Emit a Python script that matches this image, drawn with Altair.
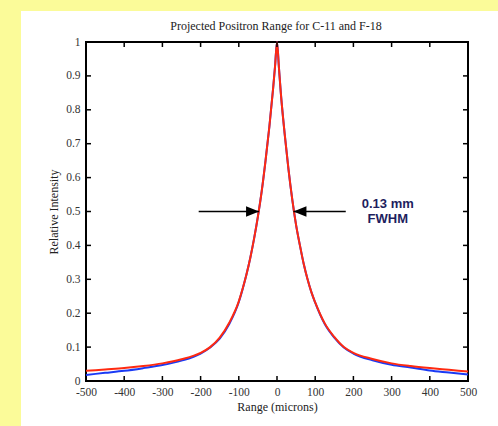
import altair as alt
import pandas as pd

# Positron range profiles (relative intensity vs. range in microns)
range_um = [-500, -450, -400, -350, -300, -250, -200, -175, -150, -125, -100, -90, -80,
            -70, -60, -50, -40, -30, -20, -10, -5, 0, 5, 10, 20, 30,
            40, 50, 60, 70, 80, 90, 100, 125, 150, 175, 200, 250, 300, 350, 400, 450, 500]
c11 = [0.030, 0.034, 0.038, 0.044, 0.052, 0.064, 0.083, 0.100, 0.128, 0.172, 0.235, 0.272,
       0.314, 0.363, 0.420, 0.485, 0.560, 0.650, 0.750, 0.865, 0.930, 1.000,
       0.925, 0.850, 0.730, 0.625, 0.535, 0.460, 0.400, 0.345, 0.300, 0.262,
       0.232, 0.170, 0.130, 0.100, 0.083, 0.065, 0.052, 0.044, 0.038, 0.033, 0.028]
f18 = [0.018, 0.024, 0.030, 0.038, 0.047, 0.060, 0.081, 0.099, 0.125, 0.168, 0.233, 0.271,
       0.314, 0.363, 0.420, 0.485, 0.560, 0.650, 0.750, 0.865, 0.930, 1.000,
       0.925, 0.850, 0.730, 0.625, 0.535, 0.460, 0.400, 0.345, 0.300, 0.262,
       0.231, 0.168, 0.128, 0.099, 0.081, 0.061, 0.048, 0.040, 0.031, 0.025, 0.019]

x_ticks = [-500, -400, -300, -200, -100, 0, 100, 200, 300, 400, 500]
y_ticks = [0, 0.1, 0.2, 0.3, 0.4, 0.5, 0.6, 0.7, 0.8, 0.9, 1]

# FWHM arrows: tail and tip positions at half maximum
arrow_tail = [-205, 180]
arrow_tip = [-47, 43]
arrow_level = [0.5, 0.5]

note_lines = ["0.13 mm", "FWHM"]
note_x = [290, 290]
note_y = [0.522, 0.478]

chart_title = ["Projected Positron Range for C-11 and F-18"]

W, H = 382, 339
SERIF = "Liberation Serif"

curves = pd.DataFrame({
    "x": range_um * 2,
    "y": f18 + c11,
    "s": ["F-18"] * len(range_um) + ["C-11"] * len(range_um),
})
arrows = pd.DataFrame({"tail": arrow_tail, "tip": arrow_tip, "y": arrow_level,
                       "side": ["left", "right"]})
notes = pd.DataFrame({"t": note_lines, "x": note_x, "y": note_y})
titles = pd.DataFrame({"t": chart_title})
xt = pd.DataFrame({"v": x_ticks})
yt = pd.DataFrame({"v": y_ticks})
one = pd.DataFrame({"k": [0]})

xscale = alt.Scale(domain=[-500, 500], nice=False)
yscale = alt.Scale(domain=[0, 1], nice=False)

axis_common = dict(ticks=False, tickSize=0, domain=False, grid=False, labelFont=SERIF,
                   labelFontSize=11.5, labelColor="#333333", labelOverlap=False,
                   labelFlush=False, labelExpr="toString(datum.value)", titleFont=SERIF,
                   titleFontSize=12, titleFontWeight="normal", titleColor="#222222")
x_axis = alt.Axis(values=x_ticks, labelPadding=5, title="Range (microns)",
                  titlePadding=4, **axis_common)
y_axis = alt.Axis(values=y_ticks, labelPadding=6, title="Relative Intensity",
                  titlePadding=5, **axis_common)

# every layer carries the same axis definition so the merged axes stay identical
X = lambda f: alt.X(f, scale=xscale, axis=x_axis)
Y = lambda f: alt.Y(f, scale=yscale, axis=y_axis)

# yellow page border along the top and left edges
band_left = alt.Chart(one).mark_rect(color="#FBFB99").encode(
    x=alt.value(-86), x2=alt.value(-65), y=alt.value(-42), y2=alt.value(H + 45))
band_top = alt.Chart(one).mark_rect(color="#FBFB99").encode(
    x=alt.value(-86), x2=alt.value(W + 30), y=alt.value(-42), y2=alt.value(-31))

title_text = alt.Chart(titles).mark_text(font=SERIF, fontSize=12, color="#222222",
                                         align="center", baseline="middle").encode(
    x=alt.value(W / 2 - 1), y=alt.value(-16), text="t:N")

lines = alt.Chart(curves).mark_line(strokeWidth=2, interpolate="monotone").encode(
    x=X("x:Q"),
    y=Y("y:Q"),
    color=alt.Color("s:N", scale=alt.Scale(domain=["F-18", "C-11"],
                                           range=["#1A3AF5", "#FF2A10"]), legend=None),
    order=alt.Order("x:Q"),
)

# inward tick marks on all four sides
tick_style = dict(color="black", strokeWidth=1.5)
t_bottom = alt.Chart(xt).mark_rule(**tick_style).encode(
    x=X("v:Q"), y=alt.value(H), y2=alt.value(H - 5))
t_top = alt.Chart(xt).mark_rule(**tick_style).encode(
    x=X("v:Q"), y=alt.value(0), y2=alt.value(5))
t_left = alt.Chart(yt).mark_rule(**tick_style).encode(
    y=Y("v:Q"), x=alt.value(0), x2=alt.value(5))
t_right = alt.Chart(yt).mark_rule(**tick_style).encode(
    y=Y("v:Q"), x=alt.value(W), x2=alt.value(W - 5))

shafts = alt.Chart(arrows).mark_rule(color="black", strokeWidth=1.6).encode(
    x=X("tail:Q"), x2="tip:Q", y=Y("y:Q"))
head_r = alt.Chart(arrows[arrows.side == "left"]).mark_point(
    shape="M -1 -0.4 L 0 0 L -1 0.4 Z", filled=True, color="black", opacity=1,
    size=676).encode(x=X("tip:Q"), y=Y("y:Q"))
head_l = alt.Chart(arrows[arrows.side == "right"]).mark_point(
    shape="M 1 -0.4 L 0 0 L 1 0.4 Z", filled=True, color="black", opacity=1,
    size=676).encode(x=X("tip:Q"), y=Y("y:Q"))

note = alt.Chart(notes).mark_text(font="Liberation Sans", fontSize=13, fontWeight="bold",
                                  color="#1E1E5E", align="center", baseline="middle").encode(
    x=X("x:Q"), y=Y("y:Q"), text="t:N")

chart = alt.layer(
    band_left, band_top, title_text, lines, t_bottom, t_top, t_left, t_right,
    shafts, head_r, head_l, note,
).properties(
    width=W, height=H,
    autosize=alt.AutoSizeParams(type="none"),
    padding={"left": 86, "top": 42, "right": 30, "bottom": 45},
    background="white",
).configure_view(stroke="black", strokeWidth=2)

chart.save("out.html", embed_options={"renderer": "svg", "actions": False})
